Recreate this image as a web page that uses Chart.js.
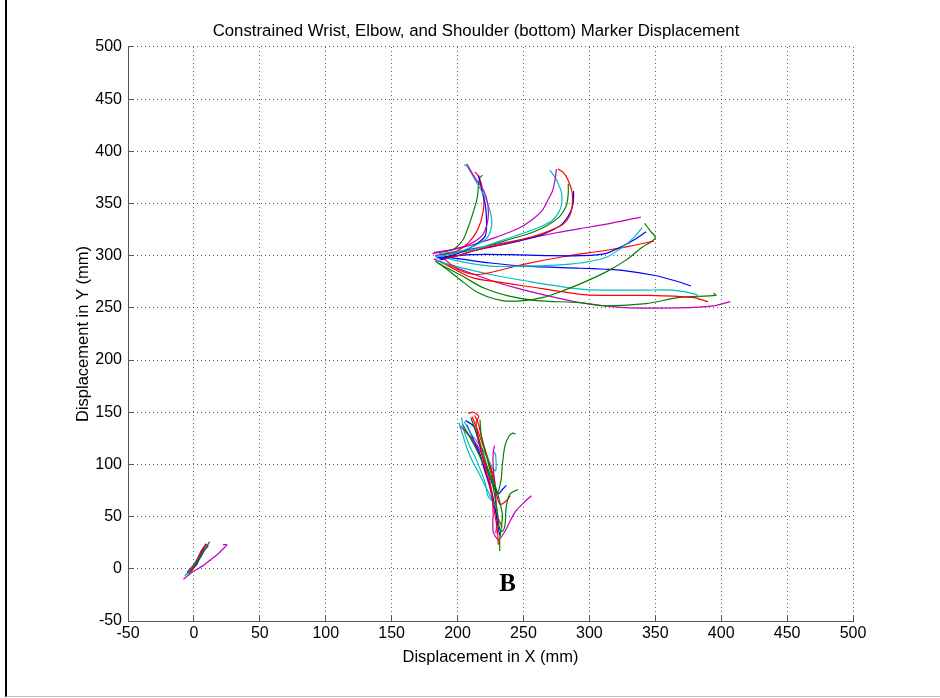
<!DOCTYPE html>
<html>
<head>
<meta charset="utf-8">
<title>Marker Displacement</title>
<script src="https://cdn.jsdelivr.net/npm/chart.js@4.4.1/dist/chart.umd.min.js"></script>
<style>
    html, body { margin: 0; padding: 0; background: #fff; overflow: hidden; }
    #wrap { position: relative; width: 940px; height: 698px; overflow: hidden; }
    #frame {
        position: absolute; left: 5px; top: 0; width: 935px; height: 696px;
        border-left: 2px solid #000; border-bottom: 1px solid #c4c4c4;
        pointer-events: none;
    }
    #chart { position: absolute; left: 0; top: 0; }
</style>
</head>
<body>
<div id="wrap">
    <div id="frame"></div>
    <canvas id="chart" width="952" height="698"></canvas>
</div>
<script>
// Labels
const chartTitle = 'Constrained Wrist, Elbow, and Shoulder (bottom) Marker Displacement';
const xTitle = 'Displacement in X (mm)';
const yTitle = 'Displacement in Y (mm)';
const xRange = [-50, 500];
const yRange = [-50, 500];
const tickStep = 50;
const noteText = 'B';
const notePoint = [238, -15];

// Matlab colour order letters
const colourOf = { b: '#0000ff', g: '#008000', r: '#ff0000', c: '#00bfbf', m: '#bf00bf' };

// Wrist marker paths (x, y in mm)
const wristColours = ['m','c','b','r','g', 'm','c','r','g','b', 'm','c','b','r','g', 'b','c','r','g','m'];
const wristPaths = [
    [[181,302],[194,305],[209,311],[219,320],[223,334],[223,349],[220,362],[213,375],[207,388]],
    [[183,299],[197,302],[212,309],[223,318],[226,333],[222,353],[215,369],[207,386],[205,387]],
    [[186,297],[200,302],[213,310],[221,319],[222,333],[221,349],[218,365],[216,377]],
    [[189,301],[199,304],[208,312],[216,327],[220,349],[218,369],[215,378],[213,380]],
    [[191,304],[198,307],[204,315],[208,327],[212,342],[215,356],[216,369],[217,375],[219,377]],
    [[182,303],[197,306],[213,311],[230,318],[246,326],[256,334],[264,343],[268,352],[272,362],[274,373],[275,383]],
    [[186,302],[199,304],[213,306],[232,314],[251,322],[265,329],[272,334],[277,342],[279,350],[279,360],[277,367],[274,375],[270,382]],
    [[188,297],[200,300],[213,305],[237,312],[259,319],[272,325],[280,330],[285,338],[287,348],[287,360],[284,372],[280,380],[276,383]],
    [[190,302],[201,303],[213,306],[235,314],[256,322],[268,329],[277,337],[281,344],[283,350],[284,360],[284,369]],
    [[187,296],[200,300],[213,305],[236,311],[259,318],[271,324],[279,330],[284,338],[287,346],[288,355],[288,362]],
    [[183,300],[200,304],[230,311],[251,316],[275,322],[293,326],[312,330],[339,337]],
    [[186,300],[200,295],[225,290],[251,290],[275,291],[293,293],[312,298],[325,308],[335,319],[340,327]],
    [[184,298],[210,301],[240,301],[270,300],[293,300],[312,302],[325,309],[335,316],[343,323]],
    [[188,299],[200,287],[215,282],[235,287],[251,292],[280,299],[312,305],[330,309],[349,314]],
    [[183,295],[192,287],[201,278],[215,265],[234,257],[251,257],[265,260],[277,265],[293,273],[312,284],[328,296],[340,308],[350,317],[346,324],[342,331]],
    [[190,299],[202,297],[225,293],[251,290],[293,288],[312,287],[325,286],[350,281],[365,276],[377,271]],
    [[184,295],[201,289],[225,282],[251,276],[293,268],[312,267],[340,267],[363,267],[381,263],[383,260]],
    [[187,294],[192,291],[211,279],[230,275],[251,271],[293,263],[312,262],[343,262],[378,260],[390,256]],
    [[185,293],[203,281],[220,269],[240,261],[260,257],[293,255],[311,252],[343,254],[368,260],[396,262],[394,264]],
    [[182,297],[200,288],[226,276],[245,269],[264,263],[293,255],[312,252],[330,250],[368,250],[394,252],[407,256]]
];

// Elbow marker paths
const elbowColours = ['r','g','g','m','g','b','c','r','m','c','b','r','m','c'];
const elbowPaths = [
    [[208,149],[212,150],[216,146],[214,140],[217,119],[221,97],[225,78],[227,62],[230,39],[231,23]],
    [[217,143],[218,128],[223,103],[226,88],[230,74],[234,52],[233,38],[232,28],[232,17]],
    [[204,138],[212,120],[220,100],[226,85],[230,72],[233,85],[234,100],[236,118],[239,127],[242,130],[244,129]],
    [[202,137],[208,129],[216,116],[222,97],[226,74],[227,55],[227,36],[231,28],[236,36],[240,46],[244,55],[250,63],[256,70]],
    [[210,145],[216,125],[222,100],[227,78],[230,55],[232,38],[234,36],[236,42],[237,60],[240,72],[246,76]],
    [[206,142],[212,137],[216,122],[219,108],[223,94],[227,80],[231,72],[234,76],[237,80]],
    [[203,145],[205,132],[209,118],[213,108],[217,96],[221,82],[223,70],[228,62],[230,56]],
    [[211,146],[216,130],[221,112],[226,92],[229,75],[232,62],[236,64],[240,70]],
    [[228,118],[227,110],[227,98],[228,85],[229,70],[229,58]],
    [[205,141],[210,130],[217,118],[222,108],[226,98],[229,94],[229,108],[228,112]],
    [[207,138],[212,124],[217,110],[221,94],[225,78],[228,62],[230,46],[232,32]],
    [[213,147],[216,138],[219,122],[224,102],[228,85],[229,66],[231,48],[234,40]],
    [[204,134],[210,126],[216,112],[220,96],[224,80],[227,64],[230,48],[229,34]],
    [[201,140],[204,128],[207,116],[211,104],[216,92],[220,82],[224,72],[227,64]]
];

// Shoulder marker paths
const shoulderColours = ['m','g','r','b','c','r','g','b','m','c'];
const shoulderPaths = [
    [[-8,-10],[-5,-7],[-1,-3],[3,0],[8,4],[13,9],[18,14],[22,19],[25,23],[22,23]],
    [[-5,-4],[-2,-1],[1,4],[4,10],[7,16],[10,22],[12,26]],
    [[-3,-3],[0,1],[2,6],[4,11],[6,16],[8,21],[10,24]],
    [[-2,-1],[1,3],[3,8],[5,13],[7,18],[9,24]],
    [[-6,-6],[-3,-3],[0,1],[2,6],[5,12],[7,17],[8,20]],
    [[-4,-5],[-1,-1],[1,4],[3,9],[5,14],[7,19],[8,22]],
    [[-3,-2],[-1,1],[1,5],[3,9],[5,13],[7,16]],
    [[-1,0],[2,4],[4,9],[6,13],[8,18],[11,22]],
    [[-5,-3],[-3,0],[0,4],[2,8],[4,13],[6,18],[7,20]],
    [[-7,-7],[-4,-3],[-1,1],[1,6],[3,11],[5,16],[6,19]]
];

const axisColour = '#555';
const gridColour = 'rgba(40, 40, 40, 0.75)';

Chart.defaults.font.family = '"Liberation Sans", Arial, sans-serif';
Chart.defaults.color = '#000';

function toDatasets(paths, colours) {
    return paths.map((path, i) => ({
        data: path.map(p => ({ x: p[0], y: p[1] })),
        borderColor: colourOf[colours[i]],
        backgroundColor: colourOf[colours[i]],
        borderWidth: 1.2,
        showLine: true,
        pointRadius: 0,
        tension: 0.3,
        fill: false
    }));
}

const datasets = [
    ...toDatasets(wristPaths, wristColours),
    ...toDatasets(elbowPaths, elbowColours),
    ...toDatasets(shoulderPaths, shoulderColours)
];

// Letter annotation placed in data units
const noteLabel = {
    id: 'noteLabel',
    afterDatasetsDraw(chart) {
        const { ctx, scales } = chart;
        ctx.save();
        ctx.font = 'bold 25px "Liberation Serif", "Times New Roman", serif';
        ctx.fillStyle = '#000';
        ctx.textAlign = 'center';
        ctx.textBaseline = 'middle';
        ctx.fillText(noteText, scales.x.getPixelForValue(notePoint[0]), scales.y.getPixelForValue(notePoint[1]));
        ctx.restore();
    }
};

new Chart(document.getElementById('chart'), {
    type: 'scatter',
    data: { datasets: datasets },
    plugins: [noteLabel],
    options: {
        responsive: false,
        animation: false,
        layout: { padding: 0 },
        plugins: {
            legend: { display: false },
            tooltip: { enabled: false },
            title: {
                display: true,
                text: chartTitle,
                color: '#000',
                font: { size: 16.8, weight: 'normal' },
                padding: { top: 21, bottom: 5.8 }
            }
        },
        scales: {
            x: {
                type: 'linear',
                position: 'bottom',
                min: xRange[0],
                max: xRange[1],
                ticks: { stepSize: tickStep, font: { size: 16 }, padding: 8, maxRotation: 0, autoSkip: false },
                grid: { color: gridColour, lineWidth: 1, tickColor: axisColour, tickLength: -5, tickWidth: 1 },
                border: { display: true, color: axisColour, width: 1, dash: [1, 3] },
                title: { display: true, text: xTitle, font: { size: 16.5 }, padding: { top: 0, bottom: 31 } },
                afterFit: s => { s.height = 77; }
            },
            y: {
                type: 'linear',
                position: 'left',
                min: yRange[0],
                max: yRange[1],
                ticks: { stepSize: tickStep, font: { size: 16 }, padding: 11, autoSkip: false },
                grid: { color: gridColour, lineWidth: 1, tickColor: axisColour, tickLength: -5, tickWidth: 1 },
                border: { display: true, color: axisColour, width: 1, dash: [1, 3] },
                title: { display: true, text: yTitle, font: { size: 16.5 }, padding: { top: 74, bottom: 0 } },
                afterFit: s => { s.width = 128; }
            },
            // empty right-hand margin, keeps the plot right edge at x = 500
            yMargin: {
                axis: 'y',
                type: 'linear',
                position: 'right',
                min: yRange[0],
                max: yRange[1],
                ticks: { display: false },
                grid: { display: false },
                border: { display: false },
                afterFit: s => { s.width = 99; }
            }
        }
    }
});
</script>
</body>
</html>
